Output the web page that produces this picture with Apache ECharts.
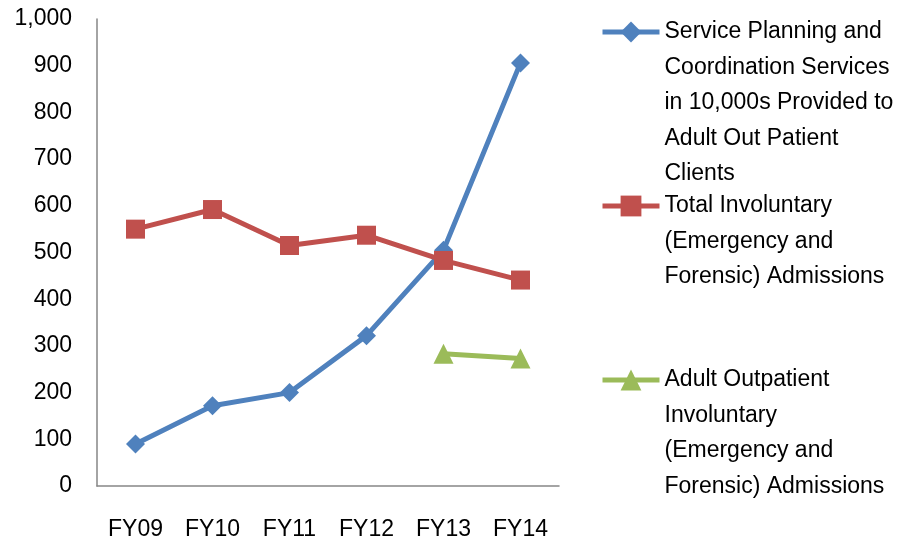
<!DOCTYPE html>
<html><head><meta charset="utf-8">
<script src="https://cdn.jsdelivr.net/npm/echarts@6/dist/echarts.min.js"></script>
<style>html,body{margin:0;padding:0;background:#fff}#c{width:902px;height:542px}</style>
</head><body><div id="c"></div>
<script>
const categories = ['FY09','FY10','FY11','FY12','FY13','FY14'];
const serviceNames = [
  'Service Planning and\nCoordination Services\nin 10,000s Provided to\nAdult Out Patient\nClients',
  'Total Involuntary\n(Emergency and\nForensic) Admissions',
  'Adult Outpatient\nInvoluntary\n(Emergency and\nForensic) Admissions'
];
const servicePlanning = [90, 172, 200, 322, 505, 906];
const totalInvoluntary = [550, 592, 515, 537, 483, 441];
const outpatientInvoluntary = [null, null, null, null, 283, 273];
const yTicks = { min: 0, max: 1000, interval: 100 };

const FONT = 'Liberation Sans';
const LH = 35.5;
const IH = 26;
function legendFor(name, iconCenter) {
  const n = name.split('\n').length;
  const boxH = (2 * n - 1) * LH;
  return {
    data: [name], orient: 'vertical', left: 600, top: iconCenter - boxH / 2, padding: 0,
    itemWidth: 57, itemHeight: IH, itemGap: 0, selectedMode: false,
    lineStyle: { width: 5 },
    formatter: nm => '\n'.repeat(n - 1) + nm,
    textStyle: { fontFamily: FONT, fontSize: 23, color: '#000', lineHeight: LH }
  };
}
const chart = echarts.init(document.getElementById('c'), null, { renderer: 'canvas' });
chart.setOption({
  animation: false,
  grid: { left: 97, right: 343, top: 19, bottom: 56, containLabel: false },
  legend: [
    legendFor(serviceNames[0], 32),
    legendFor(serviceNames[1], 206),
    legendFor(serviceNames[2], 380)
  ],
  xAxis: {
    type: 'category', data: categories, boundaryGap: true,
    axisLine: { lineStyle: { color: '#868686', width: 1.5 } },
    axisTick: { show: false },
    axisLabel: { fontFamily: FONT, fontSize: 23, color: '#000', margin: 32 },
    splitLine: { show: false }
  },
  yAxis: {
    type: 'value', min: yTicks.min, max: yTicks.max, interval: yTicks.interval,
    axisLine: { show: true, lineStyle: { color: '#868686', width: 1.5 } },
    axisTick: { show: false },
    splitLine: { show: false },
    axisLabel: { fontFamily: FONT, fontSize: 23, color: '#000', margin: 25,
      formatter: v => v.toLocaleString('en-US') }
  },
  series: [
    { name: serviceNames[0], type: 'line', data: servicePlanning, symbol: 'diamond', symbolSize: 19,
      color: '#4F81BD', lineStyle: { width: 5, color: '#4F81BD' }, itemStyle: { color: '#4F81BD' } },
    { name: serviceNames[1], type: 'line', data: totalInvoluntary, symbol: 'rect', symbolSize: 19,
      color: '#C0504D', lineStyle: { width: 5, color: '#C0504D' }, itemStyle: { color: '#C0504D' } },
    { name: serviceNames[2], type: 'line', data: outpatientInvoluntary, symbol: 'triangle', symbolSize: 20,
      color: '#9BBB59', lineStyle: { width: 5, color: '#9BBB59' }, itemStyle: { color: '#9BBB59' } }
  ]
});
</script></body></html>
